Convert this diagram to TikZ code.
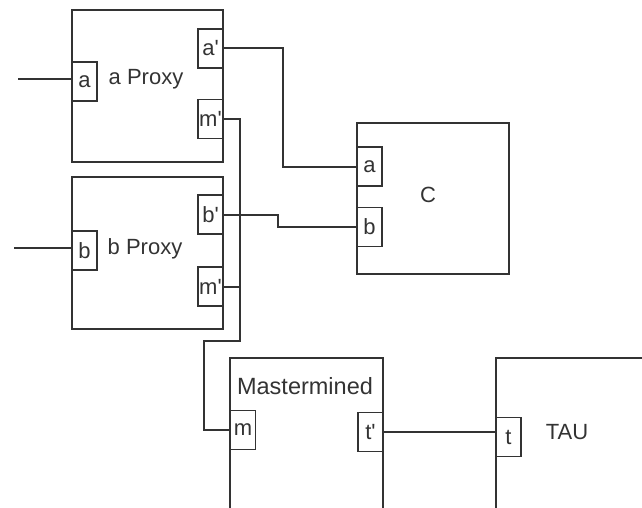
\documentclass[tikz,border=0pt]{standalone}
\usepackage{fontspec}
\setmainfont{Liberation Sans}
\definecolor{ink}{HTML}{333333}
\newcommand{\pr}{\textquotesingle}
\begin{document}
\begin{tikzpicture}[x=1pt,y=-1pt,
  every node/.style={inner sep=0pt, text=ink, font=\fontsize{22}{25}\selectfont},
  block/.style={draw=ink, line width=2pt, rectangle},
  port/.style={draw=ink, line width=1.8pt, rectangle, fill=white, minimum width=25pt, minimum height=39pt},
  wire/.style={draw=ink, line width=2pt},
  lbl/.style={}]
\useasboundingbox (0,0) rectangle (642,508);
\clip (0,0) rectangle (642,508);
% blocks
\node[block, minimum width=151pt, minimum height=152pt] (A) at (147.5,86) {};
\node[block, minimum width=151pt, minimum height=152pt] (B) at (147.5,253) {};
\node[block, minimum width=152pt, minimum height=151pt] (C) at (433,198.5) {};
\node[block, minimum width=153pt, minimum height=204pt] (M) at (306.5,460) {};
\node[block, minimum width=204pt, minimum height=204pt] (T) at (598,460) {};
% labels
\node[lbl] (Alab) at (146,79) {a Proxy};
\node[lbl] (Blab) at (145,249) {b Proxy};
\node[lbl] (Clab) at (428,195) {C};
\node[lbl, font=\fontsize{23.5}{26}\selectfont] (Mlab) at (305,386) {Mastermined};
\node[lbl] (Tlab) at (567,432) {TAU};
% ports
\node[port] (Aa) at (84.5,81.5) {a};
\node[port] (Aap) at (210.5,48.5) {a\pr};
\node[port] (Amp) at (210.5,119) {m\pr};
\node[port] (Bb) at (84.5,250.5) {b};
\node[port] (Bbp) at (210.5,214.5) {b\pr};
\node[port] (Bmp) at (210.5,286.5) {m\pr};
\node[port] (Ca) at (369.5,166.5) {a};
\node[port] (Cb) at (369.5,227) {b};
\node[port] (Mm) at (243,430) {m};
\node[port] (Mtp) at (370.5,432) {t\pr};
\node[port] (Tt) at (508.5,437) {t};
% coordinates
\coordinate (inA) at (18,79);
\coordinate (inB) at (14,248);
\coordinate (bend1) at (240,341);
\coordinate (bend2) at (204,341);
% wires
\draw[wire] (inA) -- (inA -| Aa.west);
\draw[wire] (inB) -- (inB -| Bb.west);
\draw[wire] (Aap.east) -- ++(59,0) |- (Ca.west);
\draw[wire] (Bbp.east) -- ++(54,0) |- (Cb.west);
\draw[wire] (Amp.east) -| (bend1) -- (bend2) |- (Mm.west);
\draw[wire] (Bmp.east) -- (Bmp.east -| bend1);
\draw[wire] (Mtp.east) -- (Mtp.east -| Tt.west);
\end{tikzpicture}
\end{document}
